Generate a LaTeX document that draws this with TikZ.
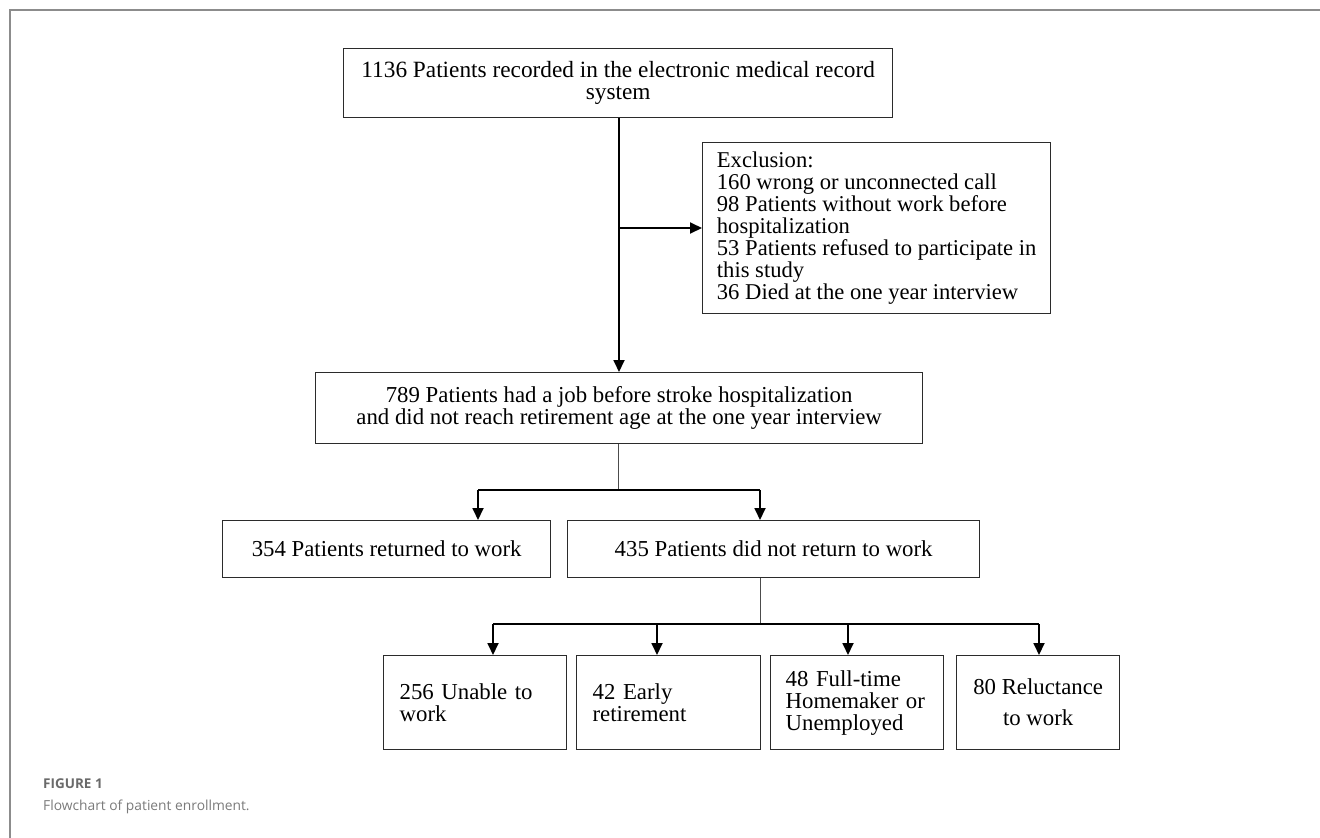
\documentclass[tikz,border=0pt]{standalone}
\usepackage{fontspec}
\setmainfont{Liberation Serif}
\newfontfamily\capfont{Open Sans}
\usetikzlibrary{arrows.meta}
\definecolor{framegray}{HTML}{8C8C8C}
\definecolor{capgray}{HTML}{6A6A6A}
\definecolor{captxt}{HTML}{7A7A7A}
\definecolor{boxline}{HTML}{2B2B2B}
\begin{document}
\begin{tikzpicture}[x=1pt,y=-1pt,
  box/.style={draw=boxline, line width=1.3pt, inner sep=0pt, font=\fontsize{22.8}{22}\selectfont},
  conn/.style={line width=1.8pt, black},
  thinline/.style={line width=0.9pt, black!70},
  arr/.style={conn, -{Triangle[length=12pt,width=11pt]}},
  capt/.style={anchor=base west, inner sep=0pt}
]
\useasboundingbox (0,0) rectangle (1320,838);
\draw[framegray, line width=2.5pt] (10,838) -- (10,10) -- (1320,10);

\node[box, font=\fontsize{23.3}{22}\selectfont, anchor=north west, minimum width=549, minimum height=69, align=center] (b1) at (343,48)
  {1136 Patients recorded in the electronic medical record\\system};
\node[box, font=\fontsize{22.6}{22}\selectfont, anchor=north west, minimum width=348, minimum height=171, align=left] (ex) at (702,142)
  {Exclusion:\\160 wrong or unconnected call\\98 Patients without work before\\hospitalization\\53 Patients refused to participate in\\this study\\36 Died at the one year interview};
\node[box, anchor=north west, minimum width=607, minimum height=71, align=center] (b789) at (315,372)
  {789 Patients had a job before stroke hospitalization\\and did not reach retirement age at the one year interview};
\node[box, anchor=north west, minimum width=328, minimum height=57] (b354) at (222,520)
  {354 Patients returned to work};
\node[box, anchor=north west, minimum width=412, minimum height=57] (b435) at (567,520)
  {435 Patients did not return to work};
\node[box, anchor=north west, minimum width=183, minimum height=94, text width=151, inner xsep=16pt, align=left] (b256) at (383,655)
  {256 Unable to\\work};
\node[box, anchor=north west, minimum width=184, minimum height=94, text width=152, inner xsep=16pt, align=left] (b42) at (576,655)
  {42 Early\\retirement};
\node[box, anchor=north west, minimum width=173, minimum height=94, text width=143, inner xsep=15pt, align=left] (b48) at (770,655)
  {48 Full-time\\Homemaker or\\Unemployed};
\node[box, anchor=north west, minimum width=163, minimum height=94, align=center] (b80) at (956,655)
  {80 Reluctance\\[9pt]to work};

\coordinate (j1) at (619,228);
\draw[arr] (b1.south -| j1) -- (b789.north -| j1);
\draw[arr] (j1) -- (ex.west |- j1);

\coordinate (j2) at (618,490);
\coordinate (t354) at (478,490);
\coordinate (t435) at (760,490);
\draw[thinline] (b789.south -| j2) -- (j2);
\draw[conn] (t354) -- (t435);
\draw[arr] (t354) -- (b354.north -| t354);
\draw[arr] (t435) -- (b435.north -| t435);

\coordinate (j3) at (760,624);
\coordinate (t256) at (493,624);
\coordinate (t42) at (657,624);
\coordinate (t48) at (848,624);
\coordinate (t80) at (1039,624);
\draw[thinline] (b435.south -| j3) -- (j3);
\draw[conn] (t256) -- (t80);
\draw[arr] (t256) -- (b256.north -| t256);
\draw[arr] (t42) -- (b42.north -| t42);
\draw[arr] (t48) -- (b48.north -| t48);
\draw[arr] (t80) -- (b80.north -| t80);

\node[capt, text=capgray, font=\capfont\bfseries\fontsize{13.5}{13.5}\selectfont] (fig) at (43,788) {FIGURE 1};
\node[capt, text=captxt, font=\capfont\fontsize{13.8}{13.8}\selectfont] (cap) at (43,810) {Flowchart of patient enrollment.};
\end{tikzpicture}
\end{document}
